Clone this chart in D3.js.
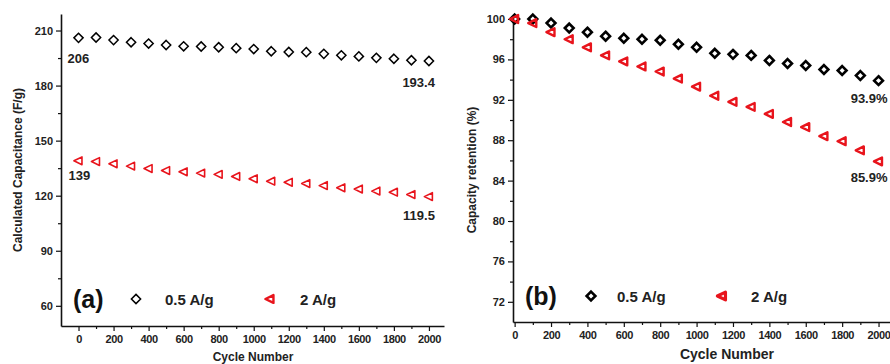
<!DOCTYPE html>
<html>
<head>
<meta charset="utf-8">
<script src="https://cdn.jsdelivr.net/npm/d3@7"></script>
<style>
  body { margin: 0; background: #fff; }
  svg { font-family: Arial, "Liberation Sans", sans-serif; font-weight: bold; }
  .tick text { fill: #222; }
</style>
</head>
<body>
<script>
// cycle numbers shared by both panels
var cycles = [0, 100, 200, 300, 400, 500, 600, 700, 800, 900, 1000,
              1100, 1200, 1300, 1400, 1500, 1600, 1700, 1800, 1900, 2000];

// panel (a): specific capacitance, F/g
var capLow = [206, 206.2, 204.8, 203.6, 202.9, 202.1, 201.4, 201.3, 200.9, 200.4, 199.9,
              198.7, 198.3, 198.2, 197.3, 196.5, 195.9, 195.1, 194.6, 193.8, 193.4];
var capHigh = [139, 138.6, 137.4, 136.1, 134.8, 133.7, 133.0, 132.3, 131.6, 130.5, 129.2,
               127.9, 127.3, 126.6, 125.5, 124.3, 123.6, 122.5, 121.9, 120.6, 119.5];

// panel (b): capacity retention, %
var retLow = [100, 100, 99.6, 99.1, 98.7, 98.3, 98.1, 98.0, 97.9, 97.5, 97.2,
              96.6, 96.5, 96.4, 95.9, 95.6, 95.4, 95.0, 94.9, 94.4, 93.9];
var retHigh = [100, 99.6, 98.7, 98.0, 97.2, 96.4, 95.8, 95.3, 94.8, 94.1, 93.3,
               92.4, 91.8, 91.3, 90.6, 89.8, 89.3, 88.4, 87.9, 87.0, 85.9];

var seriesNames = ['0.5 A/g', '2 A/g'];
var capTicks = [60, 90, 120, 150, 180, 210];
var retTicks = [72, 76, 80, 84, 88, 92, 96, 100];
var cycleTicks = [0, 200, 400, 600, 800, 1000, 1200, 1400, 1600, 1800, 2000];

var svg = d3.select('body').append('svg').attr('width', 890).attr('height', 364);

var diamond = function(s) { return 'M0,' + (-s) + 'L' + s + ',0L0,' + s + 'L' + (-s) + ',0Z'; };
var triLeft = function(s) { return 'M' + (-s) + ',0L' + (s * 0.75) + ',' + (-s * 0.85) + 'L' + (s * 0.75) + ',' + (s * 0.85) + 'Z'; };

function drawPanel(p) {
    var g = svg.append('g');
    var x = d3.scaleLinear().domain(p.xDomain).range(p.xRange);
    var y = d3.scaleLinear().domain(p.yDomain).range(p.yRange);

    // minor ticks
    var xMinor = d3.range(100, 2001, 200).filter(function(v) { return v < p.xDomain[1]; });
    var yMinor = p.yMinor;

    var xAxis = g.append('g').attr('transform', 'translate(0,' + p.yRange[0] + ')')
        .call(d3.axisBottom(x).tickValues(cycleTicks).tickFormat(d3.format('d'))
            .tickSize(5).tickSizeOuter(0).tickPadding(4));
    xAxis.selectAll('.tick text').style('font-size', p.tickFont + 'px').style('letter-spacing', '-0.4px');
    g.append('g').attr('transform', 'translate(0,' + p.yRange[0] + ')')
        .call(d3.axisBottom(x).tickValues(xMinor).tickSize(3).tickFormat(''))
        .select('.domain').remove();

    var yAxis = g.append('g').attr('transform', 'translate(' + p.xRange[0] + ',0)')
        .call(d3.axisLeft(y).tickValues(p.yTicks).tickSize(5).tickSizeOuter(0).tickPadding(3));
    yAxis.selectAll('.tick text').style('font-size', p.tickFont + 'px');
    g.append('g').attr('transform', 'translate(' + p.xRange[0] + ',0)')
        .call(d3.axisLeft(y).tickValues(yMinor).tickSize(3).tickFormat(''))
        .select('.domain').remove();

    g.selectAll('.domain').attr('stroke', '#111').attr('stroke-width', 1.6);
    g.selectAll('.tick line').attr('stroke', '#111').attr('stroke-width', 1.2);

    // axis titles
    g.append('text').attr('x', p.xTitle[0]).attr('y', p.xTitle[1])
        .attr('text-anchor', 'middle').style('font-size', p.xTitleFont + 'px').attr('fill', '#222')
        .text('Cycle Number');
    g.append('text').attr('transform', 'translate(' + p.yTitle[0] + ',' + p.yTitle[1] + ') rotate(-90)')
        .attr('text-anchor', 'middle').style('font-size', p.yTitleFont + 'px').attr('fill', '#222')
        .text(p.yLabel);

    // markers
    g.selectAll('path.low').data(p.low).enter().append('path').attr('class', 'low')
        .attr('d', diamond(p.dSize))
        .attr('transform', function(d, i) { return 'translate(' + x(cycles[i]) + ',' + y(d) + ')'; })
        .attr('fill', 'none').attr('stroke', '#000').attr('stroke-width', p.dStroke);
    g.selectAll('path.high').data(p.high).enter().append('path').attr('class', 'high')
        .attr('d', triLeft(p.tSize))
        .attr('transform', function(d, i) { return 'translate(' + x(cycles[i]) + ',' + y(d) + ')'; })
        .attr('fill', 'none').attr('stroke', '#e8141c').attr('stroke-width', p.tStroke)
        .attr('stroke-linejoin', 'round');

    // value notes
    p.notes.forEach(function(n) {
        g.append('text').attr('x', x(n.c) + n.dx).attr('y', y(n.v) + n.dy)
            .attr('text-anchor', n.anchor).style('font-size', '13px').attr('fill', '#222')
            .text(n.text);
    });

    // legend
    var L = p.legend;
    g.append('text').attr('x', L.x).attr('y', L.y + 9).style('font-size', '25px').attr('fill', '#111').text(L.tag);
    g.append('path').attr('d', diamond(p.dSize)).attr('transform', 'translate(' + (L.x + L.d1) + ',' + L.y + ')')
        .attr('fill', 'none').attr('stroke', '#000').attr('stroke-width', p.dStroke);
    g.append('text').attr('x', L.x + L.t1).attr('y', L.y + 6).style('font-size', '15px').attr('fill', '#222').text(seriesNames[0]);
    g.append('path').attr('d', triLeft(p.tSize)).attr('transform', 'translate(' + (L.x + L.d2) + ',' + L.y + ')')
        .attr('fill', 'none').attr('stroke', '#e8141c').attr('stroke-width', p.tStroke + 0.8).attr('stroke-linejoin', 'round');
    g.append('text').attr('x', L.x + L.t2).attr('y', L.y + 6).style('font-size', '15px').attr('fill', '#222').text(seriesNames[1]);
}

drawPanel({
    xDomain: [-100, 2086], xRange: [61, 444],
    yDomain: [49, 219], yRange: [326, 14],
    yTicks: capTicks, yMinor: [75, 105, 135, 165, 195],
    tickFont: 11, xTitleFont: 12, yTitleFont: 12,
    xTitle: [253, 361], yTitle: [22, 170], yLabel: 'Calculated Capacitance (F/g)',
    low: capLow, high: capHigh,
    dSize: 4.6, dStroke: 1.5, tSize: 4.6, tStroke: 1.6,
    notes: [
        { c: 0, v: capLow[0], dx: -11, dy: 25, anchor: 'start', text: '206' },
        { c: 2000, v: capLow[20], dx: 6, dy: 26, anchor: 'end', text: '193.4' },
        { c: 0, v: capHigh[0], dx: -10, dy: 19, anchor: 'start', text: '139' },
        { c: 2000, v: capHigh[20], dx: 6, dy: 23, anchor: 'end', text: '119.5' }
    ],
    legend: { tag: '(a)', x: 73, y: 299, d1: 63, t1: 92, d2: 197, t2: 227 }
});

drawPanel({
    xDomain: [-9, 2063], xRange: [513, 890],
    yDomain: [70, 100.2], yRange: [322, 17],
    yTicks: retTicks, yMinor: [74, 78, 82, 86, 90, 94, 98],
    tickFont: 11, xTitleFont: 14, yTitleFont: 12,
    xTitle: [727, 359], yTitle: [476, 170], yLabel: 'Capacity retention (%)',
    low: retLow, high: retHigh,
    dSize: 4.4, dStroke: 2.6, tSize: 4.6, tStroke: 2.4,
    notes: [
        { c: 2000, v: retLow[20], dx: 9, dy: 22, anchor: 'end', text: '93.9%' },
        { c: 2000, v: retHigh[20], dx: 9, dy: 21, anchor: 'end', text: '85.9%' }
    ],
    legend: { tag: '(b)', x: 525, y: 296, d1: 66, t1: 92, d2: 197, t2: 226 }
});
</script>
</body>
</html>
